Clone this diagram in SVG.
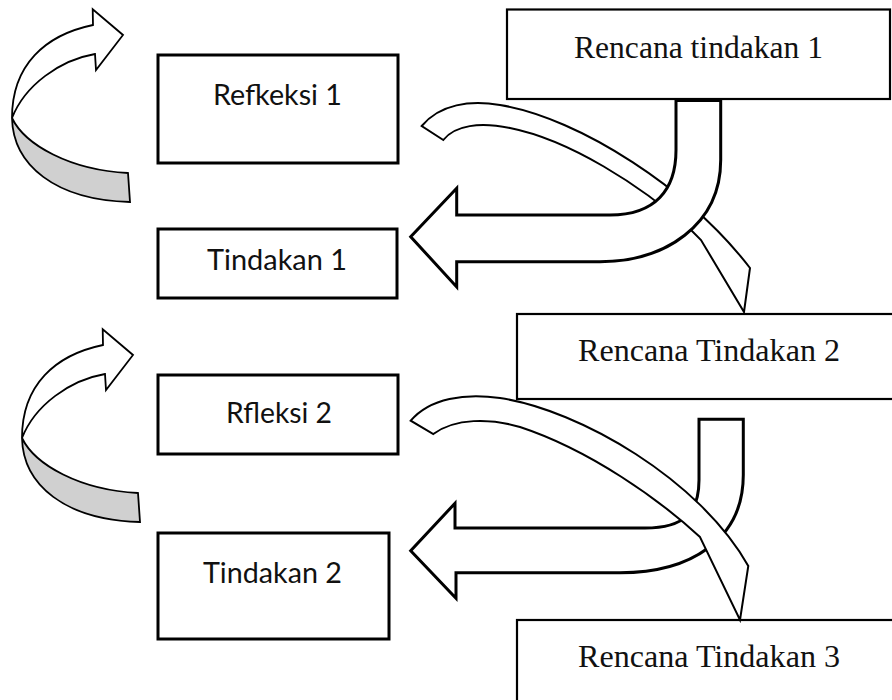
<svg xmlns="http://www.w3.org/2000/svg" width="892" height="700" viewBox="0 0 892 700">
<style>
.bx{fill:#fff;stroke:#000;stroke-width:3}
.bxr{fill:#fff;stroke:#000;stroke-width:2.2}
.cal{font-family:Lato,"Open Sans","Liberation Sans",sans-serif;font-size:28px;fill:#111}
.tnr{font-family:"Liberation Serif","Times New Roman",serif;font-size:31.7px;fill:#111}
.band{fill:#fff;stroke:#000;stroke-width:1.8;stroke-linejoin:miter}
.gray{fill:#d0d0d0;stroke:#000;stroke-width:1.8}
.bent{fill:#fff;stroke:#000;stroke-width:3;stroke-linejoin:miter}
.sw{fill:#fff;stroke:#000;stroke-width:2;stroke-linejoin:miter}
</style>
<rect width="892" height="700" fill="#fff"/>
<g id="rencana1">
<rect class="bxr" x="507" y="9.5" width="383" height="89.5"/>
<text class="tnr" x="574" y="58" textLength="249" lengthAdjust="spacingAndGlyphs">Rencana tindakan 1</text>
</g>
<g id="refleksi1">
<rect class="bx" x="158" y="55" width="240" height="108"/>
<text class="cal" x="213" y="105" textLength="129" lengthAdjust="spacingAndGlyphs">Refkeksi 1</text>
</g>
<g id="tindakan1">
<rect class="bx" x="158" y="229" width="239" height="69"/>
<text class="cal" x="207" y="270" textLength="140" lengthAdjust="spacingAndGlyphs">Tindakan 1</text>
</g>
<g id="rencana2">
<rect class="bxr" x="517" y="314" width="380" height="85"/>
<text class="tnr" x="578" y="361" textLength="262" lengthAdjust="spacingAndGlyphs">Rencana Tindakan 2</text>
</g>
<g id="refleksi2">
<rect class="bx" x="158" y="375" width="240" height="79"/>
<text class="cal" x="226" y="423" textLength="106" lengthAdjust="spacingAndGlyphs">Rfleksi 2</text>
</g>
<g id="tindakan2">
<rect class="bx" x="158" y="533" width="231" height="106"/>
<text class="cal" x="203" y="583" textLength="139" lengthAdjust="spacingAndGlyphs">Tindakan 2</text>
</g>
<g id="rencana3">
<rect class="bxr" x="517" y="620" width="380" height="90"/>
<text class="tnr" x="578" y="667" textLength="262" lengthAdjust="spacingAndGlyphs">Rencana Tindakan 3</text>
</g>
<g id="connectors">
<g id="loop1">
<path class="gray" d="M12,118 C13,165 55,200 130,202 L128,173 C70,170 25,145 12,118 Z"/>
<path class="band" d="M12,118 C12,65 45,35 93,25 L92.7,9.3 L123,35 L96,70 L95,54 C60,60 25,85 12,118 Z"/>
</g>
<g id="loop2" transform="translate(10,320)">
<path class="gray" d="M12,118 C13,165 55,200 130,202 L128,173 C70,170 25,145 12,118 Z"/>
<path class="band" d="M12,118 C12,65 45,35 93,25 L92.7,9.3 L123,35 L96,70 L95,54 C60,60 25,85 12,118 Z"/>
</g>
<path id="swoosh1" class="sw" d="M421.7,126 C440,104 470,100 500,105 C580,118 690,190 750,268 L744,312 L701,240 L690,229 C640,185 570,140 510,128 C480,122 455,125 443.3,140 Z"/>
<path id="bent1" class="bent" d="M676,100.5 L676,150 C676,190 655,215 610,215 L456.7,215 L456.7,188.3 L410.7,236.7 L456.7,287 L456.7,261.7 L600,261.7 C665,261.7 720.7,225 720.7,160 L720.7,100.5 Z"/>
<path id="bent2" class="bent" d="M699,419.3 L699,480 C699,512 685,528 645,528 L455,528 L455,503.3 L410.7,550.7 L456,598.3 L456,572.7 L620,572.7 C690,572.7 743.3,540 743.3,475 L743.3,419.3 Z"/>
<path id="swoosh2" class="sw" d="M410.7,420.7 C430,398 465,393 500,398 C580,410 700,480 748.3,566 L740,620 L700,537 C660,500 590,450 520,427 C490,418 455,418 433.3,434 Z"/>
</g>
</svg>
